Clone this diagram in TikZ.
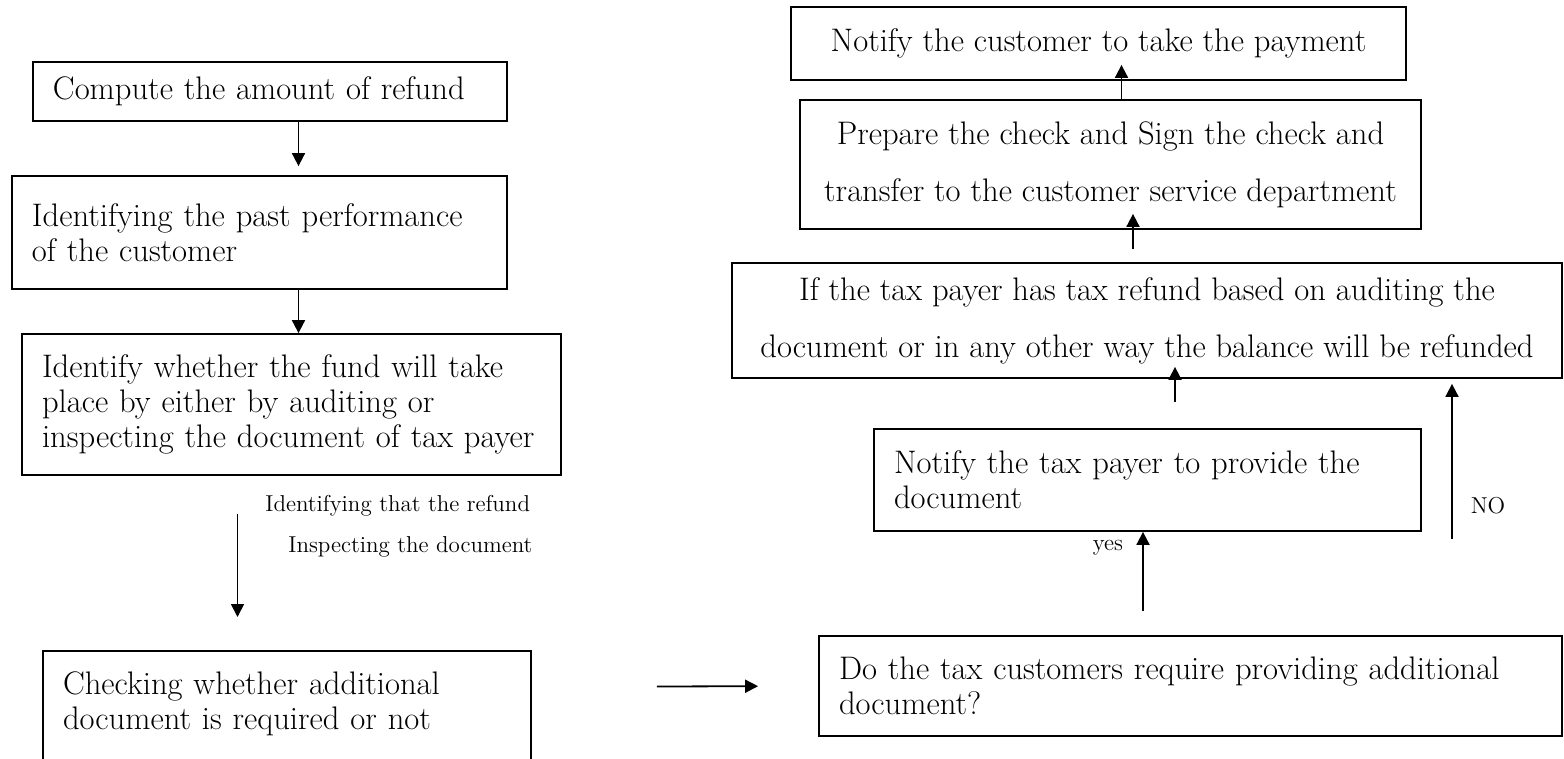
\documentclass[tikz,border=0pt]{standalone}
\usepackage{fontspec}
\usetikzlibrary{arrows.meta}

\begin{document}
\begin{tikzpicture}[x=0.5pt,y=-0.5pt,
  box/.style={draw,line width=0.9pt,inner xsep=10pt,inner ysep=0pt,font=\fontsize{16.3}{17.5}\selectfont},
  lbl/.style={inner sep=0pt,font=\fontsize{11.5}{13}\selectfont},
  arr/.style={-{Triangle[length=6.5pt,width=6.5pt]},line width=0.9pt}]
\useasboundingbox (0,0) rectangle (1564,759);
\node [box,text width=217pt,minimum height=29.5pt,align=left] (compute) at (270,91.5) {Compute the amount of refund};
\node [box,text width=227.5pt,minimum height=56.5pt,align=left] (past) at (259.5,232.5) {Identifying the past performance\\of the customer};
\node [box,text width=249.5pt,minimum height=70.5pt,align=left] (whether) at (291.5,404.5) {Identify whether the fund will take\\place by either by auditing or\\inspecting the document of tax payer};
\node [box,text width=224pt,minimum height=67pt,align=left,anchor=north] (checking) at (287,650) {Checking whether additional\\document is required or not\\\mbox{}};
\node [lbl,anchor=west] (refund) at (265,506) {Identifying that the refund};
\node [lbl,anchor=west] (inspect) at (288,547) {Inspecting the document};
\node [box,text width=351.5pt,minimum height=50pt,align=left] (require) at (1190.5,686) {Do the tax customers require providing additional\\document?};
\node [box,text width=253.5pt,minimum height=51pt,align=left] (provide) at (1147.5,480) {Notify the tax payer to provide the\\document};
\node [box,minimum width=415pt,minimum height=57.5pt,align=center,font=\fontsize{16.3}{28.5}\selectfont] (balance) at (1147,320.5) {If the tax payer has tax refund based on auditing the\\document or in any other way the balance will be refunded};
\node [box,minimum width=310.5pt,minimum height=64.5pt,align=center,font=\fontsize{16.3}{28.5}\selectfont] (check) at (1110.5,164.5) {Prepare the check and Sign the check and\\transfer to the customer service department};
\node [box,minimum width=307.5pt,minimum height=36.5pt,align=center] (payment) at (1098.5,43.5) {Notify the customer to take the payment};
\node [lbl] (yes) at (1108,548) {yes};
\node [lbl] (no) at (1488,506) {NO};
\coordinate (nostart) at (1452,539);
\draw [arr,shorten >=4.5pt] ([xshift=14.25pt]compute.south) -- ([xshift=19.5pt]past.north);
\draw [arr] ([xshift=19.5pt]past.south) -- ([xshift=3.5pt]whether.north);
\draw [arr,shorten <=19pt,shorten >=16.5pt] ([xshift=-27pt]whether.south) -- ([xshift=-24.75pt]checking.north);
\draw [arr,shorten <=62.5pt,shorten >=30pt] ([yshift=15.5pt]checking.east) -- (require.west);
\draw [arr,shorten <=12pt] ([xshift=-23.75pt]require.north) -- ([xshift=-2.25pt]provide.south);
\draw [arr,shorten >=2.5pt] (nostart) -- ([xshift=152.5pt]balance.south);
\draw [arr,shorten <=13pt,shorten >=-6pt] ([xshift=13.75pt]provide.north) -- ([xshift=14pt]balance.south);
\draw [arr,shorten <=6.5pt,shorten >=-8pt] ([xshift=-7pt]balance.north) -- ([xshift=11.25pt]check.south);
\draw [arr,shorten >=-8pt] ([xshift=5.5pt]check.north) -- ([xshift=11.5pt]payment.south);
\end{tikzpicture}
\end{document}
